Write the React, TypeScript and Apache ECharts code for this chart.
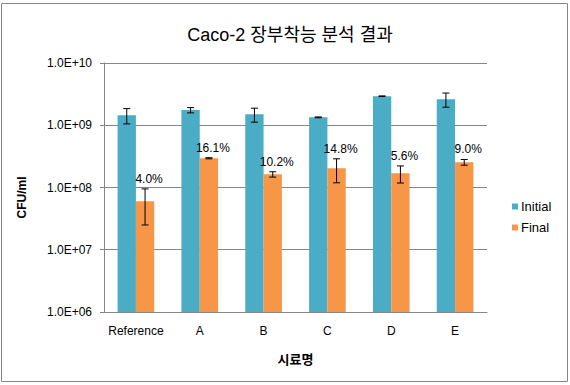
import React, { useEffect, useRef } from "react";
import * as echarts from "echarts";

const categories = ["Reference", "A", "B", "C", "D", "E"];
const initialValues = [1.45e9, 1.75e9, 1.5e9, 1.34e9, 2.93e9, 2.62e9];
const initialErrors = [0.4e9, 0.17e9, 0.38e9, 0.02e9, 0.03e9, 0.67e9];
const finalValues = [6.0e7, 2.95e8, 1.63e8, 2.04e8, 1.7e8, 2.55e8];
const finalErrors = [3.5e7, 0.6e7, 1.6e7, 8.5e7, 5.2e7, 2.7e7];
const finalLabels = ["4.0%", "16.1%", "10.2%", "14.8%", "5.6%", "9.0%"];

const BAR_FRAC = 0.287;
const LATIN = "'Liberation Sans', Arial, 'Noto Sans CJK KR', sans-serif";
const KR = "'Liberation Sans', 'Noto Sans CJK KR', sans-serif";

function fmtTick(v: number): string {
  const exp = Math.round(Math.log10(v));
  return "1.0E+" + (exp < 10 ? "0" + exp : String(exp));
}

function makeErrRender(sign: number) {
  return (params: any, api: any) => {
    const i = api.value(0);
    const v = api.value(1);
    const e = api.value(2);
    const lbl = api.value(3);
    const band = api.size([1, 0])[0];
    const off = (sign * band * BAR_FRAC) / 2;
    const top = api.coord([i, v + e]);
    const bot = api.coord([i, v - e]);
    const x = top[0] + off;
    const cap = 3.5;
    const ls = { stroke: "#000", lineWidth: 1 };
    const children: any[] = [
      { type: "line", shape: { x1: x, y1: top[1], x2: x, y2: bot[1] }, style: ls },
      { type: "line", shape: { x1: x - cap, y1: top[1], x2: x + cap, y2: top[1] }, style: ls },
      { type: "line", shape: { x1: x - cap, y1: bot[1], x2: x + cap, y2: bot[1] }, style: ls },
    ];
    if (lbl && typeof lbl === "string" && lbl !== "-") {
      children.push({
        type: "text",
        style: {
          text: lbl,
          x: x + 4,
          y: top[1] - 10,
          align: "center",
          verticalAlign: "middle",
          fill: "#000",
          font: "12px " + LATIN,
        },
      });
    }
    return { type: "group", children };
  };
}

export default function App() {
  const ref = useRef<HTMLDivElement>(null);
  useEffect(() => {
    if (!ref.current) return;
    const chart = echarts.init(ref.current, undefined, { renderer: "svg" });
    const initErrData = categories.map((_, i) => [i, initialValues[i], initialErrors[i], "-"]);
    const finalErrData = categories.map((_, i) => [i, finalValues[i], finalErrors[i], finalLabels[i]]);
    chart.setOption({
      animation: false,
      backgroundColor: "#fff",
      title: {
        text: "Caco-2 장부착능 분석 결과",
        left: 285,
        top: 21,
        textAlign: "center",
        textStyle: { fontSize: 18, fontWeight: "normal", color: "#000", fontFamily: KR },
      },
      legend: {
        orient: "vertical",
        left: 507,
        top: 195,
        itemWidth: 6,
        itemHeight: 6,
        itemGap: 8,
        icon: "rect",
        data: ["Initial", "Final"],
        textStyle: { fontSize: 13, color: "#000", fontFamily: LATIN, padding: [0, 0, 0, -2] },
      },
      graphic: [
        {
          type: "rect",
          shape: { x: 1.5, y: 3.5, width: 566, height: 378 },
          style: { fill: "none", stroke: "#868686", lineWidth: 1 },
          silent: true,
        },
        {
          type: "text",
          x: 21.5,
          y: 197.5,
          rotation: Math.PI / 2,
          style: {
            text: "CFU/ml",
            align: "center",
            verticalAlign: "middle",
            fill: "#000",
            font: "bold 12px " + LATIN,
          },
        },
      ],
      grid: { left: 104, right: 83, top: 63, bottom: 73, containLabel: false },
      xAxis: {
        type: "category",
        data: categories,
        name: "시료명",
        nameLocation: "middle",
        nameGap: 41,
        nameTextStyle: { fontSize: 13, fontWeight: "bold", color: "#000", fontFamily: KR },
        axisLine: { show: true, lineStyle: { color: "#868686", width: 1 } },
        axisTick: { show: false },
        axisLabel: { color: "#000", fontSize: 12, margin: 13, fontFamily: LATIN, interval: 0 },
      },
      yAxis: {
        type: "log",
        logBase: 10,
        min: 1e6,
        max: 1e10,
        splitNumber: 4,
        axisLine: { show: true, lineStyle: { color: "#868686", width: 1 } },
        axisTick: { show: true, length: 4, inside: false, lineStyle: { color: "#868686" } },
        splitLine: { show: true, lineStyle: { color: "#868686", width: 1 } },
        axisLabel: { color: "#000", fontSize: 12, margin: 12, fontFamily: LATIN, formatter: fmtTick },
      },
      series: [
        {
          name: "Initial",
          type: "bar",
          data: initialValues,
          barWidth: (BAR_FRAC * 100).toFixed(1) + "%",
          barGap: "0%",
          itemStyle: { color: "#4BACC6" },
        },
        {
          name: "Final",
          type: "bar",
          data: finalValues,
          barWidth: (BAR_FRAC * 100).toFixed(1) + "%",
          barGap: "0%",
          itemStyle: { color: "#F79646" },
        },
        {
          name: "InitialErr",
          type: "custom",
          renderItem: makeErrRender(-1),
          data: initErrData,
          encode: { x: 0, y: 1 },
          z: 5,
          silent: true,
        },
        {
          name: "FinalErr",
          type: "custom",
          renderItem: makeErrRender(1),
          data: finalErrData,
          encode: { x: 0, y: 1 },
          z: 5,
          silent: true,
        },
      ],
    });
    return () => chart.dispose();
  }, []);
  return (
    <div
      ref={ref}
      style={{ position: "absolute", left: 0, top: 0, width: 570, height: 385 }}
    />
  );
}
